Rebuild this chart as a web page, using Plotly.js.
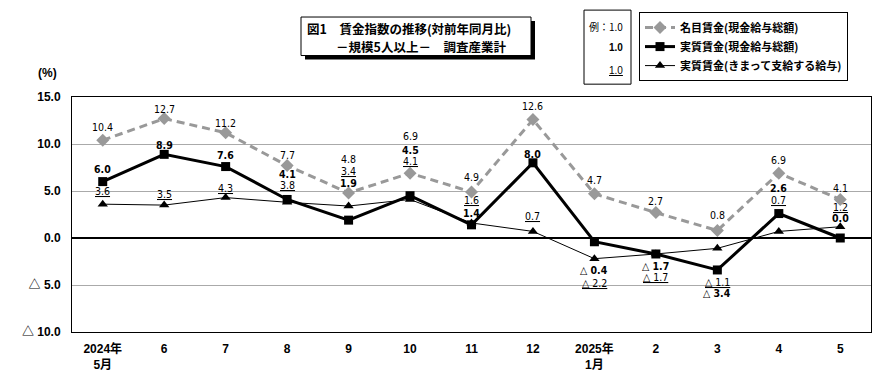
<!DOCTYPE html>
<html><head><meta charset="utf-8">
<script src="https://cdn.plot.ly/plotly-3.0.1.min.js"></script>
<style>html,body{margin:0;padding:0;background:#fff}#chart{width:890px;height:383px}</style>
</head><body><div id="chart"></div>
<script>
const months = ['2024年<br>5月','6','7','8','9','10','11','12','2025年<br>1月','2','3','4','5'];
const nominalTotal = [10.4, 12.7, 11.2, 7.7, 4.8, 6.9, 4.9, 12.6, 4.7, 2.7, 0.8, 6.9, 4.1];
const realTotal    = [6.0, 8.9, 7.6, 4.1, 1.9, 4.5, 1.4, 8.0, -0.4, -1.7, -3.4, 2.6, 0.0];
const realRegular  = [3.6, 3.5, 4.3, 3.8, 3.4, 4.1, 1.6, 0.7, -2.2, -1.7, -1.1, 0.7, 1.2];
const seriesNames = ['名目賃金(現金給与総額)','実質賃金(現金給与総額)','実質賃金(きまって支給する給与)'];
const yTickVals = [15, 10, 5, 0, -5, -10];
const yTickText = ['15.0','10.0','5.0','0.0','△ 5.0','△ 10.0'];

// label offsets (pixels, up positive) — layout only
const shiftNominal = [13, 10, 10, 11, 34, 37, 15, 14, 14, 12, 15, 13, 11];
const shiftReal    = [13, 9.5, 12, 25, 37, 46, 12, 9, -28, -12, -23, 26, 20];
const shiftRegular = [13, 11, 10, 17, 35, 38, 23, 15, -24, -23, -34, 31, 20];

const fmt = v => v < 0 ? '△ ' + Math.abs(v).toFixed(1) : v.toFixed(1);

const L = 72, R = 871, T = 94, B = 332;
const px = x => (x - L) / (R - L);
const py = y => (B - y) / (B - T);

const labelFont = {family: 'Liberation Sans Narrow, DejaVu Sans Condensed, Arial Narrow, sans-serif', size: 10.5, color: '#000'};
const cjk = 'Liberation Sans, Arial, Noto Sans CJK JP, sans-serif';

const traces = [
  {x: months, y: nominalTotal, name: seriesNames[0], type: 'scatter', mode: 'lines+markers', legendgroup: 'a', legendrank: 1,
   line: {color: '#999999', width: 3, dash: '8px,5px'}, marker: {symbol: 'diamond', size: 10, color: '#999999'}},
  {x: months, y: realRegular, name: seriesNames[2], type: 'scatter', mode: 'lines+markers', legendgroup: 'c', legendrank: 3,
   line: {color: '#000', width: 1}, marker: {symbol: 'triangle-up', size: 9, color: '#000'}},
  {x: months, y: realTotal, name: seriesNames[1], type: 'scatter', mode: 'lines+markers', legendgroup: 'b', legendrank: 2,
   line: {color: '#000', width: 3}, marker: {symbol: 'square', size: 9, color: '#000'}}
];

const annotations = [];
months.forEach((m, i) => {
  annotations.push({x: i, y: nominalTotal[i], text: fmt(nominalTotal[i]), showarrow: false, yshift: shiftNominal[i], font: labelFont, borderpad: 0});
  annotations.push({x: i, y: realTotal[i], text: '<b>' + fmt(realTotal[i]) + '</b>', showarrow: false, yshift: shiftReal[i], font: labelFont, borderpad: 0});
  annotations.push({x: i, y: realRegular[i], text: '<u>' + fmt(realRegular[i]) + '</u>', showarrow: false, yshift: shiftRegular[i], font: labelFont, borderpad: 0});
});
// title
annotations.push({xref: 'paper', yref: 'paper', x: px(305), y: py(25), xanchor: 'left', yanchor: 'middle', showarrow: false,
  text: '<b>図1　賃金指数の推移(対前年同月比)</b>', font: {family: 'Noto Sans CJK JP, sans-serif', size: 12.5, color: '#000'}});
annotations.push({xref: 'paper', yref: 'paper', x: px(334), y: py(43), xanchor: 'left', yanchor: 'middle', showarrow: false,
  text: '<b>－規模5人以上－　調査産業計</b>', font: {family: 'Noto Sans CJK JP, sans-serif', size: 12.5, color: '#000'}});
// example box
annotations.push({xref: 'paper', yref: 'paper', x: px(625), y: py(23), xanchor: 'right', yanchor: 'middle', showarrow: false,
  text: '例：1.0', font: {family: 'Liberation Sans Narrow, Noto Sans CJK JP, sans-serif', size: 10, color: '#000'}});
annotations.push({xref: 'paper', yref: 'paper', x: px(625), y: py(44), xanchor: 'right', yanchor: 'middle', showarrow: false,
  text: '<b>1.0</b>', font: {family: 'Liberation Sans Narrow, sans-serif', size: 10, color: '#000'}});
annotations.push({xref: 'paper', yref: 'paper', x: px(625), y: py(67), xanchor: 'right', yanchor: 'middle', showarrow: false,
  text: '<u>1.0</u>', font: {family: 'Liberation Sans Narrow, sans-serif', size: 10, color: '#000'}});
// unit
annotations.push({xref: 'paper', yref: 'paper', x: px(47), y: py(70), xanchor: 'center', yanchor: 'middle', showarrow: false,
  text: '<b>(%)</b>', font: {family: cjk, size: 12, color: '#000'}});

const shapes = [
  {type: 'rect', xref: 'paper', yref: 'paper', x0: px(305), x1: px(535), y0: py(17), y1: py(56), fillcolor: '#000', line: {width: 0}},
  {type: 'rect', xref: 'paper', yref: 'paper', x0: px(301), x1: px(531), y0: py(13), y1: py(52), fillcolor: '#fff', line: {color: '#000', width: 1}},
  {type: 'rect', xref: 'paper', yref: 'paper', x0: px(584), x1: px(631), y0: py(6), y1: py(81), fillcolor: '#fff', line: {color: '#000', width: 1}}
];

const layout = {
  width: 890, height: 383,
  margin: {l: L, r: 890 - R, t: T, b: 383 - B},
  paper_bgcolor: '#fff', plot_bgcolor: '#fff',
  font: {family: cjk, size: 12, color: '#000'},
  showlegend: true,
  legend: {x: px(639), y: py(8), xanchor: 'left', yanchor: 'top', bgcolor: '#fff', bordercolor: '#000', borderwidth: 1,
    font: {family: 'Noto Sans CJK JP, sans-serif', size: 11, color: '#000', weight: 'bold'}, tracegroupgap: 4, traceorder: 'normal'},
  xaxis: {type: 'category', range: [-0.5, 12.5], showgrid: false, showline: true, linecolor: '#000', linewidth: 1, mirror: true,
    ticks: '', tickfont: {family: cjk, size: 12, weight: 'bold'}, ticklabelstandoff: 6, fixedrange: true},
  yaxis: {range: [-10, 15], tickvals: yTickVals, ticktext: yTickText, showgrid: true, gridcolor: '#aaaaaa', gridwidth: 1,
    zeroline: true, zerolinecolor: '#000', zerolinewidth: 2, showline: true, linecolor: '#000', linewidth: 1, mirror: true,
    ticks: '', tickfont: {family: cjk, size: 12, weight: 'bold'}, ticklabelstandoff: 8, fixedrange: true},
  annotations: annotations,
  shapes: shapes
};

Plotly.newPlot('chart', traces, layout, {displayModeBar: false, staticPlot: true});
</script></body></html>
